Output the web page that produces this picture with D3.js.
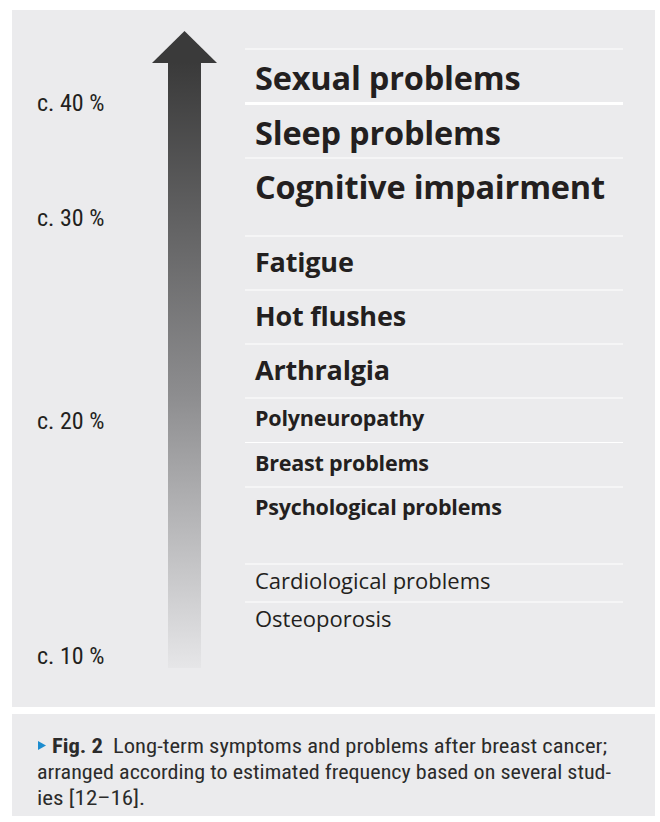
<!DOCTYPE html>
<html>
<head>
<meta charset="utf-8">
<script src="https://cdn.jsdelivr.net/npm/d3@7"></script>
<style>
  html, body { margin: 0; padding: 0; background: #ffffff; }
  svg { display: block; }
</style>
</head>
<body>
<svg id="chart" width="660" height="822"></svg>
<script>
// ---------------- data ----------------
const symptoms = [
  "Sexual problems", "Sleep problems", "Cognitive impairment",
  "Fatigue", "Hot flushes", "Arthralgia",
  "Polyneuropathy", "Breast problems", "Psychological problems",
  "Cardiological problems", "Osteoporosis"
];
// emphasis tier of each symptom (1 = most frequent group)
const tiers = [1, 1, 1, 2, 2, 2, 3, 3, 3, 4, 4];
const percentTicks = [40, 30, 20, 10];
const captionBold = "Fig. 2";
const captionLines = [
  "Long-term symptoms and problems after breast cancer;",
  "arranged according to estimated frequency based on several stud-",
  "ies [12–16]."
];

// ---------------- layout / style ----------------
const bg = "#ebebed";
const ink = "#231f20";
const tierStyle = {
  1: { h: 54.5, size: 32.5, weight: 700, gapAfter: 23.5, base: 41 },
  2: { h: 54,   size: 27,   weight: 700, gapAfter: 0,    base: 36 },
  3: { h: 44.5, size: 21.5, weight: 700, gapAfter: 32.5, base: 28 },
  4: { h: 38,   size: 22,   weight: 400, gapAfter: 0,    base: 25 }
};
const labelFont = "'Open Sans', 'Noto Sans', sans-serif";
const condFont = "'Liberation Sans Narrow', 'Roboto Condensed', Roboto, sans-serif";

const svg = d3.select("#chart");
const defs = svg.append("defs");

// panels
svg.append("rect").attr("x", 12).attr("y", 10).attr("width", 643).attr("height", 697).attr("fill", bg);
svg.append("rect").attr("x", 12).attr("y", 714).attr("width", 643).attr("height", 102).attr("fill", bg);

// ---------------- arrow ----------------
const grad = defs.append("linearGradient")
  .attr("id", "shaft").attr("x1", 0).attr("y1", 0).attr("x2", 0).attr("y2", 1);
grad.append("stop").attr("offset", "0%").attr("stop-color", "#3a3a3a");
grad.append("stop").attr("offset", "55%").attr("stop-color", "#8d8d8f");
grad.append("stop").attr("offset", "100%").attr("stop-color", "#e6e6e8");

const arrow = { cx: 184.5, tipY: 31, headY: 63, headHalf: 32.5, shaftHalf: 16.5, bottom: 668 };
svg.append("rect")
  .attr("x", arrow.cx - arrow.shaftHalf).attr("y", arrow.headY - 1)
  .attr("width", arrow.shaftHalf * 2).attr("height", arrow.bottom - arrow.headY + 1)
  .attr("fill", "url(#shaft)");
svg.append("path")
  .attr("d", d3.line()([
    [arrow.cx, arrow.tipY],
    [arrow.cx + arrow.headHalf, arrow.headY],
    [arrow.cx - arrow.headHalf, arrow.headY]
  ]) + "Z")
  .attr("fill", "#3a3a3a");

// ---------------- percent axis ----------------
const yPct = d3.scaleLinear().domain([10, 20, 30, 40]).range([655, 420, 217, 102]);
const axis = svg.append("g")
  .attr("transform", "translate(37,0)")
  .call(d3.axisRight(yPct).tickValues(percentTicks).tickSize(0).tickPadding(0)
    .tickFormat(d => `c. ${d} %`));
axis.select(".domain").remove();
axis.selectAll("text")
  .attr("fill", ink)
  .attr("font-family", condFont)
  .attr("font-size", 24)
  .attr("dy", "0.35em");

// ---------------- symptom rows ----------------
const rowTop = [];
let y = 49;
tiers.forEach((t, i) => {
  rowTop.push(y);
  y += tierStyle[t].h;
  if (i < tiers.length - 1 && tiers[i + 1] !== t) y += tierStyle[t].gapAfter;
});

const x0 = 245, x1 = 623, textX = 255;

svg.append("g").selectAll("line")
  .data(rowTop)
  .join("line")
  .attr("x1", x0).attr("x2", x1)
  .attr("y1", d => d).attr("y2", d => d)
  .attr("stroke", "#ffffff")
  .attr("stroke-width", (d, i) => i === 1 ? 3 : 1.2);

svg.append("g").selectAll("text")
  .data(symptoms)
  .join("text")
  .attr("x", textX)
  .attr("y", (d, i) => rowTop[i] + tierStyle[tiers[i]].base)
  .attr("font-family", labelFont)
  .attr("font-size", (d, i) => tierStyle[tiers[i]].size)
  .attr("font-weight", (d, i) => tierStyle[tiers[i]].weight)
  .attr("letter-spacing", (d, i) => tiers[i] === 4 ? 0 : -0.2)
  .attr("fill", ink)
  .text(d => d);

// ---------------- caption ----------------
const cap = svg.append("g").attr("font-family", condFont).attr("font-size", 20).attr("fill", "#2b2b2b");
cap.append("path")
  .attr("d", d3.line()([[38, 741], [46, 745.5], [38, 750]]) + "Z")
  .attr("fill", "#1c8ccf");
const l1 = cap.append("text").attr("x", 52).attr("y", 753)
  .attr("textLength", 555).attr("lengthAdjust", "spacingAndGlyphs");
l1.append("tspan").attr("font-weight", 700).text(captionBold);
l1.append("tspan").text("\u2002" + captionLines[0]);
const widths = [574, 108];
captionLines.slice(1).forEach((t, i) => {
  cap.append("text").attr("x", 37).attr("y", 779 + i * 25.5)
    .attr("textLength", widths[i]).attr("lengthAdjust", "spacingAndGlyphs")
    .text(t);
});
</script>
</body>
</html>
